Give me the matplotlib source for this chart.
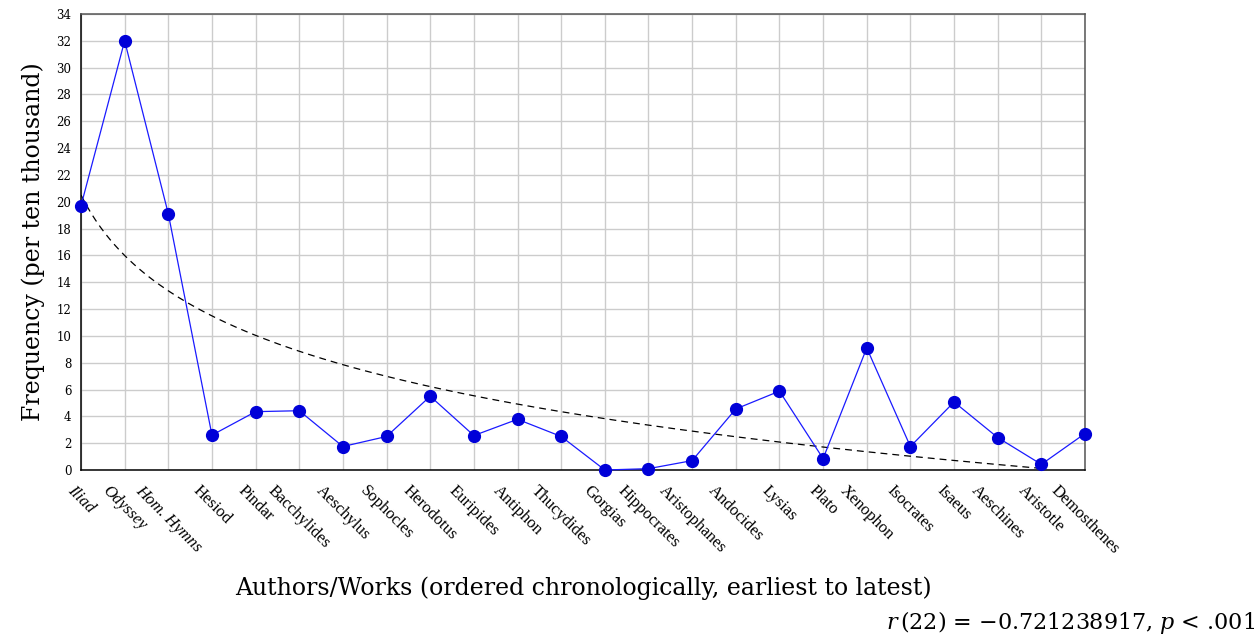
import numpy as np
import matplotlib
matplotlib.use("Agg")
import matplotlib.pyplot as plt


authors = ["Iliad", "Odyssey", "Hom. Hymns", "Hesiod", "Pindar", "Bacchylides",
           "Aeschylus", "Sophocles", "Herodotus", "Euripides", "Antiphon",
           "Thucydides", "Gorgias", "Hippocrates", "Aristophanes", "Andocides",
           "Lysias", "Plato", "Xenophon", "Isocrates", "Isaeus", "Aeschines",
           "Aristotle", "Demosthenes"]
italic_works = ["Iliad", "Odyssey", "Hom. Hymns"]
frequency = [19.7, 32.0, 19.1, 2.6, 4.35, 4.42, 1.75, 2.5, 5.5, 2.57, 3.78, 2.5,
             0.0, 0.1, 0.7, 4.55, 5.88, 0.85, 9.1, 1.75, 5.07, 2.42, 0.42, 2.72]

# log trend line: a + b*ln(x+1), drawn up to Aristotle
trend_a = 20.5
trend_b = -6.5
trend_end = "Aristotle"

y_ticks = list(range(0, 35, 2))
x_label = "Authors/Works (ordered chronologically, earliest to latest)"
y_label = "Frequency (per ten thousand)"
stat_text = "$r\\,$(22) = \u22120.721238917, $p$ < .001"


def main():
	plt.rcParams['font.family'] = ['DejaVu Serif']
	plt.rcParams['mathtext.fontset'] = 'dejavuserif'

	fig = plt.figure(figsize=(12.6, 6.38), dpi=100)
	ax = fig.add_axes([81 / 1260, 1 - 470 / 638, 1004 / 1260, 456 / 638])

	x = np.arange(len(authors))
	x_trend = np.linspace(0, authors.index(trend_end), 200)
	ax.plot(x_trend, trend_a + trend_b * np.log(x_trend + 1), color="black",
	        linewidth=0.9, linestyle=(0, (5.5, 4)), zorder=2)
	ax.plot(x, frequency, color="#1a1aff", linewidth=0.9, marker="o",
	        markersize=8.5, markerfacecolor="#0000d8", markeredgecolor="#0000d8",
	        clip_on=False, zorder=3)

	ax.set_xlim(0, len(authors) - 1)
	ax.set_ylim(0, 34)
	ax.set_yticks(y_ticks)
	ax.set_yticklabels([str(t) for t in y_ticks], fontsize=8.5)
	ax.set_xticks(x)
	ax.set_xticklabels(authors, fontsize=12, rotation=-45, ha="center", va="top",
	                   family="Liberation Serif")
	for lbl in ax.get_xticklabels():
		if lbl.get_text() in italic_works:
			lbl.set_style("italic")
	ax.tick_params(axis="y", length=0, pad=7)
	ax.tick_params(axis="x", length=0, pad=9)

	ax.grid(True, color="#cccccc", linewidth=1.0)
	ax.set_axisbelow(True)
	for side in ["left", "bottom"]:
		ax.spines[side].set_color("black")
		ax.spines[side].set_linewidth(1.1)
	for side in ["top", "right"]:
		ax.spines[side].set_color("#555555")
		ax.spines[side].set_linewidth(1.1)

	ax.set_ylabel(y_label, fontsize=17, labelpad=8)
	fig.text(583 / 1260, 1 - 588 / 638, x_label, fontsize=17, ha="center", va="center")
	fig.text(1255 / 1260, 1 - 623 / 638, stat_text, fontsize=16, ha="right", va="center")

	fig.savefig("out.png", dpi=100)


if __name__ == "__main__":
	main()
